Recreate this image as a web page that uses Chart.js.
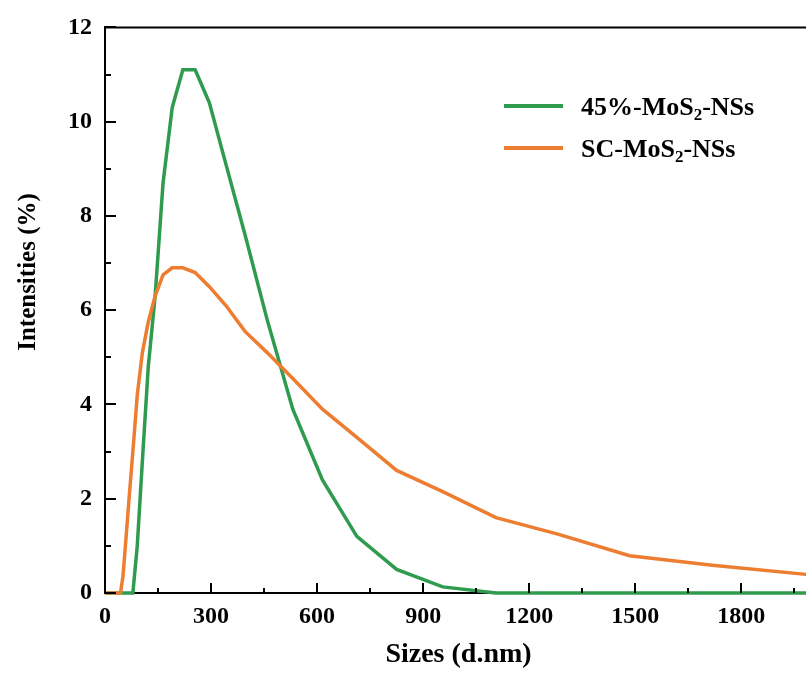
<!DOCTYPE html>
<html>
<head>
<meta charset="utf-8">
<script src="https://cdn.jsdelivr.net/npm/chart.js@4.4.1/dist/chart.umd.min.js"></script>
<style>
  html, body { margin: 0; padding: 0; background: #fff; overflow: hidden; }
  #wrap { width: 820px; height: 678px; }
</style>
</head>
<body>
<div id="wrap"><canvas id="dls-chart" width="820" height="678"></canvas></div>
<script>
// DLS size bins (d.nm) and intensity distributions (%)
const sizes = [0.4, 10.1, 24.36, 37.84, 43.82, 50.75, 58.77, 68.06, 78.82, 91.28, 105.7, 122.4,
    141.8, 164.2, 190.1, 220.2, 255.0, 295.3, 342.0, 396.1, 458.7, 531.2, 615.1, 712.4,
    825.0, 955.4, 1106, 1281, 1484, 1718, 1990, 2305];
const mos45 = [0, 0, 0, 0, 0, 0, 0, 0, 0, 1.0, 2.8, 4.8,
    6.3, 8.7, 10.3, 11.1, 11.1, 10.4, 9.1, 7.6, 5.8, 3.9, 2.4, 1.2,
    0.5, 0.13, 0, 0, 0, 0, 0, 0];
const scMos = [0, 0, 0, 0, 0, 0.35, 1.1, 2.0, 3.0, 4.2, 5.1, 5.75,
    6.3, 6.75, 6.9, 6.9, 6.8, 6.5, 6.1, 5.55, 5.1, 4.55, 3.9, 3.3,
    2.6, 2.15, 1.6, 1.25, 0.79, 0.59, 0.39, 0.2];

const xTickValues = [0, 300, 600, 900, 1200, 1500, 1800];
const xMinorValues = [150, 450, 750, 1050, 1350, 1650, 1950];
const yTickValues = [0, 2, 4, 6, 8, 10, 12];
const yMinorValues = [1, 3, 5, 7, 9, 11];

// legend text split around the subscript
const legendParts = [
    ['45%-MoS', '2', '-NSs'],
    ['SC-MoS', '2', '-NSs']
];

const GREEN = '#2E9B4E';
const ORANGE = '#ED7D31';
const SERIF = "'Liberation Serif', 'Times New Roman', serif";

const toPoints = (ys) => sizes.map((s, i) => ({ x: s, y: ys[i] }));

// frame top edge, inward tick marks, rotated y title and the legend
const framePlugin = {
    id: 'frame',
    afterDraw(chart) {
        const { ctx, chartArea, scales } = chart;
        const { left, right, top, bottom } = chartArea;
        ctx.save();
        ctx.strokeStyle = '#000';
        ctx.lineWidth = 2;

        ctx.beginPath();
        ctx.moveTo(left - 1, top);
        ctx.lineTo(right, top);
        ctx.stroke();

        ctx.beginPath();
        xTickValues.forEach((v) => {
            const px = Math.round(scales.x.getPixelForValue(v));
            ctx.moveTo(px, bottom); ctx.lineTo(px, bottom - 10);
        });
        xMinorValues.forEach((v) => {
            const px = Math.round(scales.x.getPixelForValue(v));
            ctx.moveTo(px, bottom); ctx.lineTo(px, bottom - 5);
        });
        yTickValues.forEach((v) => {
            const py = Math.round(scales.y.getPixelForValue(v));
            ctx.moveTo(left, py); ctx.lineTo(left + 11, py);
        });
        yMinorValues.forEach((v) => {
            const py = Math.round(scales.y.getPixelForValue(v));
            ctx.moveTo(left, py); ctx.lineTo(left + 6, py);
        });
        ctx.stroke();

        // y axis title
        ctx.fillStyle = '#000';
        ctx.font = `bold 25px ${SERIF}`;
        ctx.textAlign = 'center';
        ctx.textBaseline = 'middle';
        ctx.translate(29, 272);
        ctx.rotate(-Math.PI / 2);
        ctx.fillText('Intensities (%)', 0, 0);
        ctx.setTransform(1, 0, 0, 1, 0, 0);

        // legend
        const rows = [115, 157];
        chart.data.datasets.forEach((ds, i) => {
            const base = rows[i];
            ctx.strokeStyle = ds.borderColor;
            ctx.lineWidth = 4;
            ctx.beginPath();
            ctx.moveTo(504, base - 9);
            ctx.lineTo(563, base - 9);
            ctx.stroke();

            const [a, sub, b] = legendParts[i];
            let x = 581;
            ctx.textAlign = 'left';
            ctx.textBaseline = 'alphabetic';
            ctx.font = `bold 26px ${SERIF}`;
            ctx.fillText(a, x, base);
            x += ctx.measureText(a).width;
            ctx.font = `bold 17px ${SERIF}`;
            ctx.fillText(sub, x, base + 5);
            x += ctx.measureText(sub).width;
            ctx.font = `bold 26px ${SERIF}`;
            ctx.fillText(b, x, base);
        });
        ctx.restore();
    }
};

new Chart(document.getElementById('dls-chart'), {
    type: 'line',
    data: {
        datasets: [
            {
                label: legendParts[0].join(''),
                data: toPoints(mos45),
                borderColor: GREEN,
                borderWidth: 3.5,
                pointRadius: 0,
                tension: 0,
                order: 1,
                clip: { left: 2, top: 0, right: 0, bottom: 3 }
            },
            {
                label: legendParts[1].join(''),
                data: toPoints(scMos),
                borderColor: ORANGE,
                borderWidth: 3.5,
                pointRadius: 0,
                tension: 0,
                order: 0,
                clip: { left: 2, top: 0, right: 0, bottom: 3 }
            }
        ]
    },
    options: {
        responsive: false,
        animation: false,
        layout: { padding: { top: 23, right: 8, left: 0, bottom: 0 } },
        scales: {
            x: {
                type: 'linear',
                min: 0,
                max: 2000,
                afterBuildTicks: (scale) => {
                    scale.ticks = xTickValues.map((v) => ({ value: v }));
                },
                afterFit: (scale) => { scale.height = 85; },
                ticks: {
                    color: '#000',
                    padding: 9,
                    maxRotation: 0,
                    autoSkip: false,
                    callback: (v) => String(v),
                    font: { family: SERIF, size: 24, weight: 'bold' }
                },
                grid: { drawOnChartArea: false, drawTicks: false },
                border: { color: '#000', width: 2 },
                title: {
                    display: true,
                    text: 'Sizes (d.nm)',
                    color: '#000',
                    padding: { top: 0, bottom: 6 },
                    font: { family: SERIF, size: 28, weight: 'bold' }
                }
            },
            y: {
                min: 0,
                max: 12,
                afterBuildTicks: (scale) => {
                    scale.ticks = yTickValues.map((v) => ({ value: v }));
                },
                afterFit: (scale) => { scale.width = 105; },
                ticks: {
                    color: '#000',
                    padding: 13,
                    callback: (v) => String(v),
                    font: { family: SERIF, size: 24, weight: 'bold' }
                },
                grid: { drawOnChartArea: false, drawTicks: false },
                border: { color: '#000', width: 2 }
            }
        },
        plugins: {
            legend: { display: false },
            tooltip: { enabled: false }
        }
    },
    plugins: [framePlugin]
});
</script>
</body>
</html>
